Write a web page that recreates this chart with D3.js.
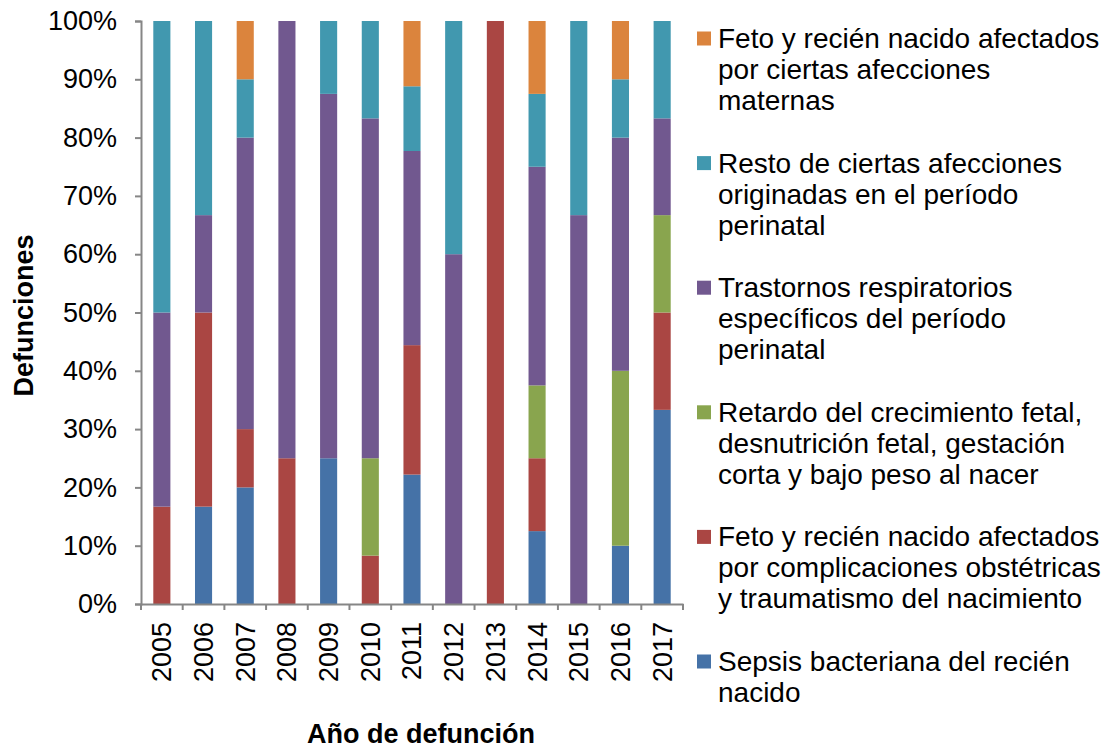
<!DOCTYPE html>
<html>
<head>
<meta charset="utf-8">
<script src="https://cdn.jsdelivr.net/npm/d3@7"></script>
<style>
  body { margin: 0; background: #fff; }
  svg text { font-family: "Liberation Sans", Arial, sans-serif; fill: #000; }
</style>
</head>
<body>
<div id="chart"></div>
<script>
// data (percent of deaths per year)
var years = ["2005","2006","2007","2008","2009","2010","2011","2012","2013","2014","2015","2016","2017"];
var sepsis        = [0, 16.7, 20, 0, 25, 0, 22.2, 0, 0, 12.5, 0, 10, 33.3];
var obstetricas   = [16.7, 33.3, 10, 25, 0, 8.3, 22.2, 0, 100, 12.5, 0, 0, 16.7];
var retardo       = [0, 0, 0, 0, 0, 16.7, 0, 0, 0, 12.5, 0, 30, 16.7];
var respiratorios = [33.3, 16.7, 50, 75, 62.5, 58.3, 33.3, 60, 0, 37.5, 66.7, 40, 16.6];
var resto         = [50, 33.3, 10, 0, 12.5, 16.7, 11.1, 40, 0, 12.5, 33.3, 10, 16.7];
var maternas      = [0, 0, 10, 0, 0, 0, 11.2, 0, 0, 12.5, 0, 10, 0];
var yTicks = [0, 10, 20, 30, 40, 50, 60, 70, 80, 90, 100];

var seriesNames = ["sepsis","obstetricas","retardo","respiratorios","resto","maternas"];
var seriesValues = [sepsis, obstetricas, retardo, respiratorios, resto, maternas];
var colors = ["#4572A7","#AA4643","#89A54E","#71588F","#4198AF","#DB843D"];
var legendLabels = [
  ["Sepsis bacteriana del recién", "nacido"],
  ["Feto y recién nacido afectados", "por complicaciones obstétricas", "y traumatismo del nacimiento"],
  ["Retardo del crecimiento fetal,", "desnutrición fetal, gestación", "corta y bajo peso al nacer"],
  ["Trastornos respiratorios", "específicos del período", "perinatal"],
  ["Resto de ciertas afecciones", "originadas en el período", "perinatal"],
  ["Feto y recién nacido afectados", "por ciertas afecciones", "maternas"]
];

var W = 1106, H = 749;
var margin = { top: 21, left: 141, right: W - 683, bottom: H - 604 },
    width = W - margin.left - margin.right,
    height = H - margin.top - margin.bottom;

var svg = d3.select("#chart").append("svg")
    .attr("width", W)
    .attr("height", H);

var g = svg.append("g")
    .attr("transform", "translate(" + margin.left + "," + margin.top + ")");

var table = years.map(function(y, i) {
  var row = { year: y };
  seriesNames.forEach(function(s, j) { row[s] = seriesValues[j][i]; });
  return row;
});

var stacked = d3.stack().keys(seriesNames)(table);

var xScale = d3.scaleBand().domain(years).range([0, width]).paddingInner(0.59).paddingOuter(0.295),
    yScale = d3.scaleLinear().domain([0, 100]).range([height, 0]);

g.selectAll(".layer")
  .data(stacked)
  .enter().append("g")
  .attr("class", "layer")
  .attr("fill", function(d, i) { return colors[i]; })
  .selectAll("rect")
  .data(function(d) { return d; })
  .enter().append("rect")
  .attr("x", function(d) { return xScale(d.data.year); })
  .attr("y", function(d) { return yScale(d[1]); })
  .attr("width", xScale.bandwidth())
  .attr("height", function(d) { return yScale(d[0]) - yScale(d[1]); });

// y axis
var yAxis = g.append("g")
  .call(d3.axisLeft(yScale).tickValues(yTicks).tickSize(6).tickPadding(18)
        .tickFormat(function(d) { return d + "%"; }));
yAxis.selectAll("text").style("font-size", "27px");

// x axis with ticks at band edges
var xAxis = g.append("g")
  .attr("transform", "translate(0," + height + ")")
  .call(d3.axisBottom(xScale).tickSize(0));
xAxis.selectAll("text")
  .style("font-size", "27px")
  .attr("transform", "rotate(-90)")
  .attr("text-anchor", "end")
  .attr("x", -18)
  .attr("y", 0)
  .attr("dy", "0.35em");
var step = xScale.step();
xAxis.selectAll(".edge")
  .data(d3.range(years.length + 1))
  .enter().append("line")
  .attr("class", "edge")
  .attr("x1", function(i) { return i * step; })
  .attr("x2", function(i) { return i * step; })
  .attr("y1", 0).attr("y2", 6);

svg.selectAll(".domain, .tick line, .edge")
  .attr("stroke", "#868686")
  .attr("stroke-width", 2);

// axis titles
svg.append("text")
  .attr("transform", "translate(33," + (margin.top + height / 2 + 3) + ") rotate(-90)")
  .attr("text-anchor", "middle")
  .style("font-size", "27px")
  .style("font-weight", "bold")
  .text("Defunciones");

svg.append("text")
  .attr("x", 421)
  .attr("y", 743)
  .attr("text-anchor", "middle")
  .style("font-size", "27px")
  .style("font-weight", "bold")
  .text("Año de defunción");

// legend, top entry is the last series
var legend = svg.append("g").attr("transform", "translate(697,0)");
var lineH = 31, entryH = 124.6;
var order = d3.range(seriesNames.length).reverse();
order.forEach(function(si, k) {
  var top = 38.5 + k * entryH;
  legend.append("rect")
    .attr("x", 0).attr("y", top - 7)
    .attr("width", 14).attr("height", 14)
    .attr("fill", colors[si]);
  var t = legend.append("text")
    .attr("x", 21)
    .attr("y", top)
    .style("font-size", "28px");
  legendLabels[si].forEach(function(line, li) {
    t.append("tspan").attr("x", 21).attr("y", top + li * lineH).attr("dy", "0.34em").text(line);
  });
});
</script>
</body>
</html>
